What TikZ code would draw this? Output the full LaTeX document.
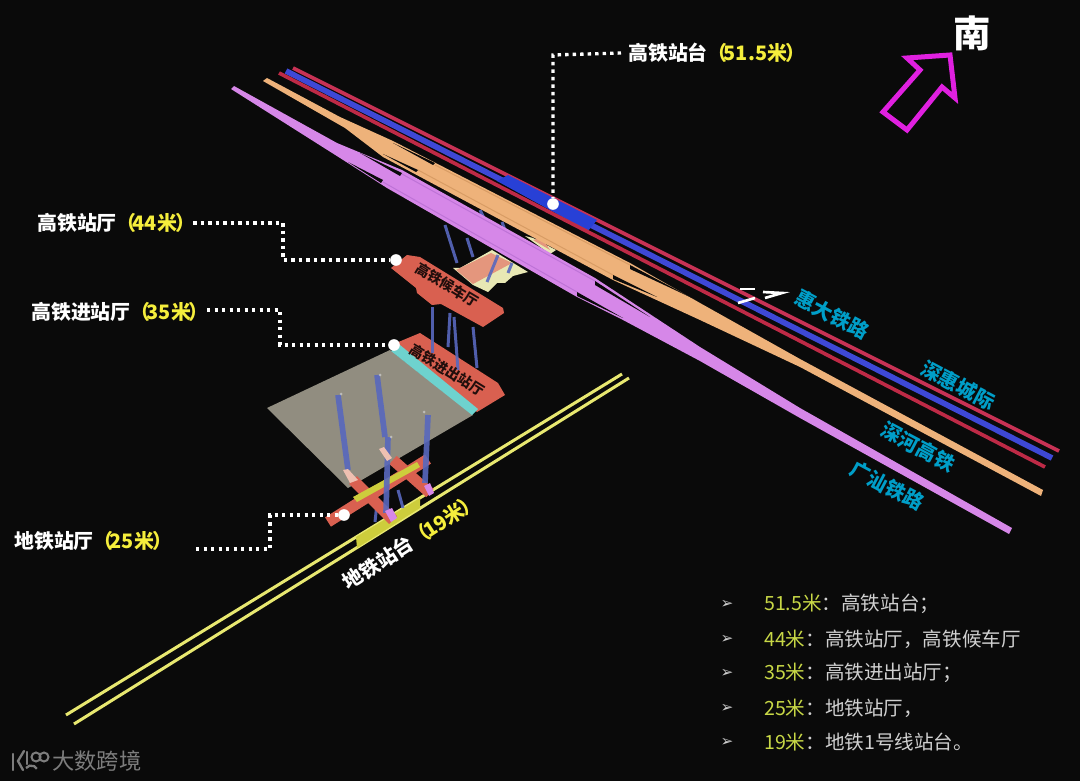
\documentclass[tikz,border=0pt]{standalone}
\usepackage{fontspec}
\setmainfont{Noto Sans CJK SC}
\newfontfamily\symfont{DejaVu Sans}
\usepackage{xcolor}
\usetikzlibrary{positioning}
\definecolor{bgblack}{RGB}{10,10,10}
\definecolor{railred}{RGB}{200,50,85}
\definecolor{railredlow}{RGB}{190,42,70}
\definecolor{railblue}{RGB}{62,72,214}
\definecolor{stationblue}{RGB}{40,64,214}
\definecolor{railorange}{RGB}{238,178,122}
\definecolor{orangedark}{RGB}{216,156,100}
\definecolor{railpurple}{RGB}{214,135,232}
\definecolor{purpledark}{RGB}{190,115,215}
\definecolor{hallsalmon}{RGB}{217,96,80}
\definecolor{hallteal}{RGB}{110,210,206}
\definecolor{hallgray}{RGB}{145,141,128}
\definecolor{tubeblue}{RGB}{88,104,190}
\definecolor{bridgecream}{RGB}{232,232,180}
\definecolor{bridgepink}{RGB}{228,150,125}
\definecolor{metroyellow}{RGB}{232,232,112}
\definecolor{padyellow}{RGB}{205,205,60}
\definecolor{labelyellow}{RGB}{245,238,60}
\definecolor{listyellow}{RGB}{200,216,70}
\definecolor{listgray}{RGB}{208,208,208}
\definecolor{raillabel}{RGB}{0,158,200}
\definecolor{arrowmagenta}{RGB}{224,32,224}
\definecolor{markgray}{RGB}{125,125,125}
\tikzset{
  levellabel/.style={text=white,inner sep=2.1mm,font=\fontsize{17}{20}\selectfont\bfseries},
  raillbl/.style={text=raillabel,inner sep=0pt,font=\fontsize{17}{20}\selectfont\bfseries},
  halllbl/.style={text=black!85!hallsalmon,inner sep=0pt,font=\fontsize{12}{14}\selectfont\bfseries},
  listitem/.style={text=listgray,anchor=west,inner sep=0pt,font=\fontsize{16.7}{19}\selectfont},
  listmark/.style={text=listgray,inner sep=0pt,font=\symfont\fontsize{13}{14}\selectfont},
  leader/.style={white,line width=1mm,dash pattern=on 1mm off 1.25mm},
  leaderdot/.style={circle,fill=white,inner sep=0pt,minimum size=3.5mm},
  tube/.style={tubeblue,line width=1.7mm,opacity=.9},
  thintube/.style={tubeblue,line width=0.9mm,opacity=.9},
  tubetip/.style={fill=listgray,opacity=.7},
}
\newcommand{\ylw}[1]{\textcolor{labelyellow}{（\kern-.2em#1\kern-.1em）\kern-.45em}}
\newcommand{\lyl}[1]{\textcolor{listyellow}{#1}}
\begin{document}
\begin{tikzpicture}[x=0.3mm,y=-0.3mm]
        \fill[bgblack] (0,0) rectangle (1080,781);
        \useasboundingbox (0,0) rectangle (1080,781);

        % pillars and bridge behind the rails
        \draw[thintube] (445,225) -- (457,263);
        \draw[thintube] (467,238) -- (473,257);
        \draw[thintube] (480,210) -- (484,218);
        \draw[thintube] (502,222) -- (505,230);
        \fill[bridgecream] (453,268) -- (460,268) -- (492,250) -- (528,272) -- (513,276) -- (505,283) -- (497,283) -- (488,292) -- (473,285) -- cycle;
        \fill[bridgepink] (456,270) -- (491,253) -- (512,263) -- (473,284) -- cycle;
        \fill[bridgecream] (525,236) -- (533,238) -- (556,250) -- (550,254) -- cycle;
        \fill[bridgepink] (533,240) -- (542,238) -- (550,250) -- cycle;
        \draw[thintube] (498,255) -- (487,282);
        \draw[thintube] (512,263) -- (508,273);

        % rails
        \draw[railred,line width=1.1mm] (293,68) -- (1059,451);
        \draw[railblue,line width=1.7mm] (286,71) -- (1052,458);
        \fill[stationblue] (497,181) -- (508,175) -- (597,220) -- (588,231) -- cycle;
        \draw[railredlow,line width=1.1mm] (279,73) -- (1045,467);

        \fill[railorange] (263,81) -- (267,78) -- (340,117) -- (393,141) -- (630,263) -- (700,303)
              -- (800,359) -- (1043,490) -- (1041,496) -- (800,367) -- (700,320) -- (613,280)
              -- (383,157) -- (345,128) -- cycle;
        \draw[orangedark,line width=0.3mm] (418,170) -- (613,275);
        \draw[orangedark,line width=0.3mm] (435,165) -- (630,265);
        \fill[bgblack] (393,143) -- (435,163) -- (433,165) -- cycle;
        \fill[bgblack] (383,154) -- (418,170) -- (416,172) -- cycle;
        \fill[bgblack] (630,265) -- (692,298) -- (630,269) -- cycle;
        \fill[bgblack] (613,275) -- (657,297) -- (613,279) -- cycle;

        \fill[railpurple] (231,89) -- (234,86) -- (337,143) -- (402,170) -- (595,278) -- (700,347)
              -- (800,408) -- (1012,528) -- (1009,534) -- (800,418) -- (700,361) -- (623,320)
              -- (577,297) -- (387,188) -- (340,158) -- cycle;
        \draw[purpledark,line width=0.3mm] (383,182) -- (577,292);
        \draw[purpledark,line width=0.3mm] (402,174) -- (595,281);
        \fill[bgblack] (360,153) -- (402,173) -- (400,176) -- cycle;
        \fill[bgblack] (348,162) -- (383,180) -- (381,183) -- cycle;
        \fill[bgblack] (595,281) -- (650,317) -- (595,285) -- cycle;
        \fill[bgblack] (577,292) -- (623,318) -- (577,296) -- cycle;

        % halls
        \fill[hallsalmon] (396,343) -- (420,333) -- (498,383) -- (505,395) -- (477,412) -- cycle;
        \fill[hallgray] (267,408) -- (390,350) -- (473,415) -- (348,488) -- cycle;
        \fill[hallteal] (391,351) -- (400,345) -- (478,409) -- (472,415) -- cycle;
        \draw[thintube] (432,307) -- (432,353);
        \draw[thintube] (450,313) -- (448,347);
        \draw[thintube] (454,317) -- (458,370);
        \draw[thintube] (473,327) -- (477,368);
        \fill[hallsalmon] (391,268) -- (407,255) -- (420,257) -- (503,308) -- (504,313) -- (483,327)
              -- (441,304) -- (432,305) -- (417,293) -- (416,288) -- cycle;

        % metro level
        \draw[metroyellow,line width=0.9mm] (66,715) -- (622,374);
        \draw[metroyellow,line width=0.9mm] (74,724) -- (629,378);
        \fill[padyellow] (356,537) -- (420,498) -- (420,508) -- (357,548) -- cycle;
        \draw[thintube] (398,490) -- (403,508);
        \draw[thintube] (377,503) -- (375,522);
        \draw[hallsalmon,line width=3.3mm] (328,522) -- (428,459);
        \draw[hallsalmon,line width=3.3mm] (353,480) -- (393,520);
        \draw[hallsalmon,line width=3.3mm] (393,460) -- (430,493);
        \fill[padyellow] (353,497) -- (417,462) -- (420,467) -- (357,502) -- cycle;
        \draw[tube] (338,395) -- (348,470);
        \draw[tube] (377,375) -- (385,437);
        \draw[tube] (388,437) -- (386,513);
        \draw[tube] (428,415) -- (425,483);
        \fill[tubetip] (341,394) circle (1.5);
        \fill[tubetip] (380,375) circle (1.5);
        \fill[tubetip] (391,437) circle (1.5);
        \fill[tubetip] (424,412) circle (1.5);
        \fill[railpurple] (385,511) -- (392,508) -- (397,518) -- (391,522) -- cycle;
        \fill[railpurple] (424,486) -- (430,483) -- (434,493) -- (429,496) -- cycle;
        \fill[bridgepink!60!white] (343,470) -- (348,469) -- (358,480) -- (350,483) -- cycle;
        \fill[bridgepink!60!white] (379,449) -- (384,447) -- (392,458) -- (387,461) -- cycle;

        % small white marks by the rails
        \draw[white,line width=0.8mm] (755,289) -- (740,289);
        \draw[white,line width=0.8mm] (763,292) -- (782,293) -- (765,298);
        \draw[white,line width=0.8mm] (738,303) -- (755,298);

        % level labels
        \node[levellabel,anchor=west] (lblplatform) at (621,53) {高铁站台\ylw{51.5米}};
        \node[levellabel,anchor=west] (lblconcourse) at (30,223) {高铁站厅\ylw{44米}};
        \node[levellabel,anchor=west] (lblentrance) at (24,312) {高铁进站厅\ylw{35米}};
        \node[levellabel,anchor=west] (lblmetrohall) at (7,541) {地铁站厅\ylw{25米}};

        \node[leaderdot] (dotplatform) at (553,204) {};
        \node[leaderdot] (dotconcourse) at (396,260) {};
        \node[leaderdot] (dotentrance) at (394,345) {};
        \node[leaderdot] (dotmetrohall) at (344,515) {};
        \coordinate (bendplatform) at (553,55);
        \coordinate (bendconcourseA) at (283,223);
        \coordinate (bendconcourseB) at (283,260);
        \coordinate (bendentranceA) at (280,310);
        \coordinate (bendentranceB) at (280,345);
        \coordinate (startmetro) at (196,549);
        \coordinate (bendmetroA) at (270,549);
        \coordinate (bendmetroB) at (270,515);

        \draw[leader] (lblplatform.west) -- (bendplatform) -- (dotplatform);
        \draw[leader] (lblconcourse.east) -- (bendconcourseA) -- (bendconcourseB) -- (dotconcourse);
        \draw[leader] (lblentrance.east |- bendentranceA) -- (bendentranceA) -- (bendentranceB) -- (dotentrance);
        \draw[leader] (startmetro) -- (bendmetroA) -- (bendmetroB) -- (dotmetrohall);

        \node[raillbl,rotate=-28] (lblhuida) at (832,315) {惠大铁路};
        \node[raillbl,rotate=-28] (lblshenhui) at (958,385) {深惠城际};
        \node[raillbl,rotate=-28] (lblshenhe) at (918,447) {深河高铁};
        \node[raillbl,rotate=-28] (lblguangshan) at (887,486) {广汕铁路};

        \node[halllbl,rotate=-31] (lblwaiting) at (447,285) {高铁候车厅};
        \node[halllbl,rotate=-32] (lblinout) at (447,370) {高铁进出站厅};
        \node[text=white,inner sep=0pt,rotate=33,font=\fontsize{17}{20}\selectfont\bfseries] (lblmetroplat) at (407,544) {地铁站台\ylw{19米}};

        % south arrow
        \node[text=white,inner sep=0pt,font=\fontsize{32}{36}\selectfont\bfseries] (lblsouth) at (972,33) {南};
        \draw[arrowmagenta,line width=1.5mm,line join=miter] (907,58) -- (950,55) -- (955,98) -- (942,87)
              -- (907,130) -- (883,112) -- (920,70) -- cycle;

        % level list
        \node[listitem] (itemA) at (764,604) {\lyl{51.5米}：高铁站台；};
        \node[listitem] (itemB) at (764,639) {\lyl{44米}：高铁站厅，高铁候车厅};
        \node[listitem] (itemC) at (764,673) {\lyl{35米}：高铁进出站厅；};
        \node[listitem] (itemD) at (764,708) {\lyl{25米}：地铁站厅，};
        \node[listitem] (itemE) at (764,742) {\lyl{19米}：地铁1号线站台。};
        \foreach \n/\y in {A/604,B/639,C/673,D/708,E/742}
          \node[listmark] (mark\n) at (727,\y) {➢};

        % watermark
        \draw[markgray,line width=0.7mm,line cap=round] (13,754) -- (13,770);
        \draw[markgray,line width=0.7mm,line cap=round] (24,751) -- (18,761) -- (23,770);
        \draw[markgray,line width=0.7mm,line cap=round] (27,752) -- (27,764);
        \draw[markgray,line width=0.7mm] (26,768) arc (210:340:6 and 5);
        \draw[markgray,line width=0.6mm] (36,757) circle (4.5);
        \draw[markgray,line width=0.6mm] (44,757) circle (4.5);
        \node[text=markgray,anchor=west,inner sep=0pt,font=\fontsize{19}{22}\selectfont] (lblmark) at (52,761) {大数跨境};
\end{tikzpicture}
\end{document}
